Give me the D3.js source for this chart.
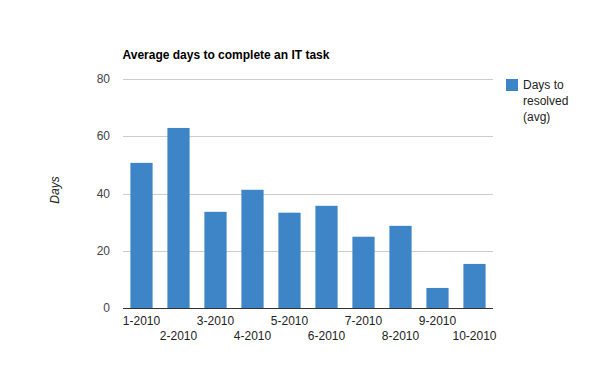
<!DOCTYPE html>
<html><head><meta charset="utf-8">
<script src="https://cdn.jsdelivr.net/npm/d3@7"></script>
<style>body{margin:0;background:#fff}svg{display:block;font-family:"Liberation Sans",Arial,sans-serif}</style>
</head><body>
<svg id="c" width="600" height="371"></svg>
<script>
const categories = ["1-2010","2-2010","3-2010","4-2010","5-2010","6-2010","7-2010","8-2010","9-2010","10-2010"];
const values = [50.7, 62.9, 33.6, 41.3, 33.3, 35.7, 24.9, 28.7, 7.0, 15.4];
const yTicks = [0, 20, 40, 60, 80];
const seriesName = ["Days to", "resolved", "(avg)"];
const chartTitle = "Average days to complete an IT task";
const yTitle = "Days";

(function () {
const svg = d3.select("#c");
const pLeft = 123, pRight = 493, pTop = 79, pBottom = 308;
const x = d3.scaleBand().domain(categories).range([pLeft, pRight]).paddingInner(0.4).paddingOuter(0.2);
const y = d3.scaleLinear().domain([0, 80]).range([pBottom, pTop]);
const color = "#3d85c6";

// gridlines
svg.append("g").selectAll("line").data(yTicks.filter(d => d > 0)).join("line")
  .attr("x1", pLeft).attr("x2", pRight)
  .attr("y1", d => Math.round(y(d)) + 0.5).attr("y2", d => Math.round(y(d)) + 0.5)
  .attr("stroke", "#cccccc");

// bars
svg.append("g").selectAll("rect").data(values).join("rect")
  .attr("x", (d, i) => x(categories[i]))
  .attr("width", x.bandwidth())
  .attr("y", d => y(d))
  .attr("height", d => y(0) - y(d))
  .attr("fill", color);

// baseline
svg.append("line").attr("x1", pLeft).attr("x2", pRight)
  .attr("y1", pBottom + 0.5).attr("y2", pBottom + 0.5).attr("stroke", "#333");

// y tick labels
svg.append("g").selectAll("text").data(yTicks).join("text")
  .attr("x", 110).attr("y", d => y(d) + 4)
  .attr("text-anchor", "end").attr("font-size", 12).attr("fill", "#444")
  .text(d => d);

// x labels
svg.append("g").selectAll("text").data(categories).join("text")
  .attr("x", d => x(d) + x.bandwidth() / 2)
  .attr("y", (d, i) => i % 2 === 0 ? 325 : 340)
  .attr("text-anchor", "middle").attr("font-size", 12).attr("fill", "#222")
  .text(d => d);

// title
svg.append("text").attr("x", 122.5).attr("y", 58.5)
  .attr("font-size", 12).attr("font-weight", "bold").attr("fill", "#000")
  .text(chartTitle);

// y axis title
svg.append("text").attr("transform", "translate(59,190) rotate(-90)")
  .attr("text-anchor", "middle").attr("font-size", 12).attr("font-style", "italic").attr("fill", "#222")
  .text(yTitle);

// legend
svg.append("rect").attr("x", 506).attr("y", 79).attr("width", 12).attr("height", 12).attr("fill", color);
svg.append("g").selectAll("text").data(seriesName).join("text")
  .attr("x", 523).attr("y", (d, i) => 89 + i * 16)
  .attr("font-size", 12).attr("fill", "#222")
  .text(d => d);
})();
</script>
</body></html>
